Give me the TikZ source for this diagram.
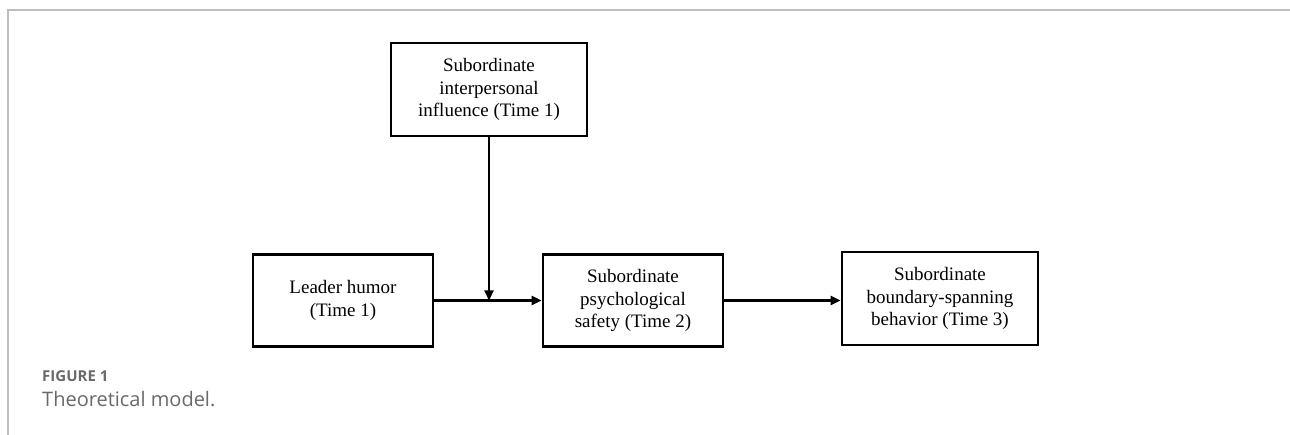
\documentclass[tikz,border=0pt]{standalone}
\usepackage{fontspec}
\setmainfont{Liberation Serif}
\newfontfamily\captionfont{Open Sans}
\usetikzlibrary{arrows.meta, positioning}
\definecolor{framegray}{RGB}{190,190,190}
\definecolor{captiongray}{RGB}{105,105,105}

\begin{document}
\begin{tikzpicture}[x=1pt, y=-1pt,
  varbox/.style={draw, line width=2.8pt, align=center, minimum width=180pt, minimum height=92pt, inner sep=0pt, font=\fontsize{19}{22.5}\selectfont},
  link/.style={line width=2.2pt, -{Triangle[length=10pt, width=9pt]}}]
  \useasboundingbox (0,0) rectangle (1290,435);
  % frame of the figure
  \draw[framegray, line width=1.4pt] (8,435) -- (8,10) -- (1290,10);

  % variables
  \node[varbox, minimum width=196pt, minimum height=93pt] (infl) at (489, 89.5) {Subordinate\\interpersonal\\influence (Time 1)};
  \node[varbox] (leader) at (343, 300.5) {Leader humor\\(Time 1)};
  \node[varbox] (safety) at (633, 300.5) {Subordinate\\psychological\\safety (Time 2)};
  \node[varbox, minimum width=196pt, minimum height=93pt] (bound) at (940, 298.5) {Subordinate\\boundary-spanning\\behavior (Time 3)};

  % paths
  \coordinate (join) at (infl.south |- leader.east);
  \draw[link] (leader.east) -- (safety.west);
  \draw[link] (infl.south) -- (join);
  \draw[link] (safety.east) -- (safety.east -| bound.west);

  % caption
  \node[anchor=west, inner sep=0pt, text=captiongray, font=\captionfont\bfseries\fontsize{15}{18}\selectfont] (figlabel) at (42, 376) {FIGURE 1};
  \node[anchor=west, inner sep=0pt, text=captiongray, font=\captionfont\fontsize{20}{24}\selectfont] (figtitle) at (42, 399) {Theoretical model.};
\end{tikzpicture}
\end{document}
